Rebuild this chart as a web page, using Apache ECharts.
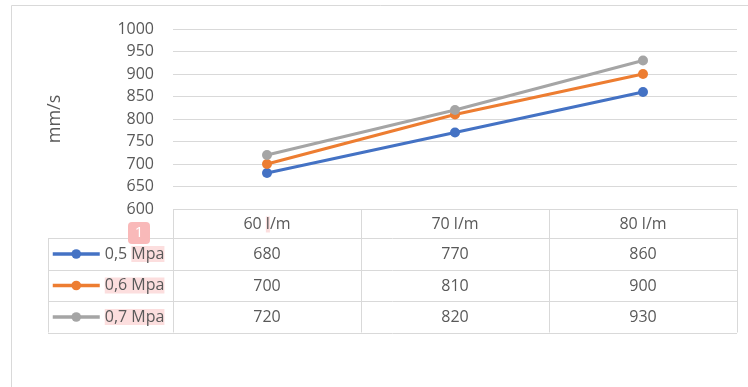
<!DOCTYPE html>
<html>
<head>
<meta charset="utf-8">
<script src="https://cdn.jsdelivr.net/npm/echarts@6/dist/echarts.min.js"></script>
<style>
  html, body { margin: 0; padding: 0; background: #fff; }
  #chart1 { width: 748px; height: 387px; }
</style>
</head>
<body>
<div id="chart1"></div>
<script>
// data
const categories = ['60 l/m', '70 l/m', '80 l/m']
const seriesNames = ['0,5 Mpa', '0,6 Mpa', '0,7 Mpa']
const values05 = [680, 770, 860]
const values06 = [700, 810, 900]
const values07 = [720, 820, 930]
const yMin = 600
const yMax = 1000
const yStep = 50
const yName = 'mm/s'

const seriesValues = [values05, values06, values07]
const colors = ['#4472C4', '#ED7D31', '#A5A5A5']
const textColor = '#595959'
const lineColor = '#d9d9d9'
const fontFamily = '"Open Sans", "Liberation Sans", sans-serif'

const chart1 = echarts.init(document.getElementById('chart1'))

let option = {
    animation: false,
    color: colors,
    textStyle: { fontFamily: fontFamily },
    grid: { left: 173, right: 11, top: 29, bottom: 178 },
    legend: {
        orient: 'vertical',
        left: 51,
        top: 244,
        padding: 0,
        itemWidth: 47,
        itemHeight: 12,
        itemGap: 11.5,
        data: seriesNames,
        lineStyle: { width: 3.5 },
        textStyle: {
            color: textColor,
            fontSize: 16,
            lineHeight: 20,
            rich: {
                h: { backgroundColor: '#fcdede', color: textColor, fontSize: 16, lineHeight: 20 }
            }
        },
        formatter: function (name) {
            // spell-check highlight as in the picture
            if (name === seriesNames[0]) {
                return name.split(' ')[0] + ' {h|' + name.split(' ')[1] + '}'
            }
            return '{h|' + name + '}'
        }
    },
    xAxis: {
        type: 'category',
        data: categories,
        boundaryGap: true,
        axisLine: { show: false },
        axisTick: { show: false },
        axisLabel: { show: false }
    },
    yAxis: {
        type: 'value',
        min: yMin,
        max: yMax,
        interval: yStep,
        name: yName,
        nameLocation: 'middle',
        nameGap: 109,
        nameTextStyle: { color: textColor, fontSize: 18 },
        axisLine: { show: false },
        axisTick: { show: false },
        axisLabel: {
            color: textColor,
            fontSize: 16,
            margin: 19,
            formatter: function (v) { return String(v) }
        },
        splitLine: { lineStyle: { color: lineColor, width: 1 } }
    },
    series: seriesNames.map(function (name, i) {
        return {
            name: name,
            type: 'line',
            data: seriesValues[i],
            symbol: 'circle',
            symbolSize: 10,
            lineStyle: { width: 3 },
            z: 2 + i
        }
    })
}
chart1.setOption(option)

// data table under the plot, built from the same arrays
const tableLeft = 48
const tableRight = 737
const headerH = 29
const rowH = 31.5
const plotLeft = 173
const tableTop = chart1.convertToPixel({ yAxisIndex: 0 }, yMin)
const centers = categories.map(function (c) {
    return chart1.convertToPixel({ xAxisIndex: 0 }, c)
})
const colW = centers.length > 1 ? centers[1] - centers[0] : 188
const rowsTop = tableTop + headerH
const tableBottom = rowsTop + rowH * seriesNames.length
const lineStyle = { stroke: lineColor, lineWidth: 1 }

let graphic = []
// outer chart frame
graphic.push({ type: 'rect', shape: { x: 11.5, y: 5.5, width: 800, height: 500 }, style: { fill: null, stroke: lineColor, lineWidth: 1 }, silent: true })
// horizontal lines
for (let r = 0; r <= seriesNames.length; r++) {
    let y = Math.round(rowsTop + rowH * r) + 0.5
    graphic.push({ type: 'line', shape: { x1: tableLeft, y1: y, x2: tableRight, y2: y }, style: lineStyle })
}
// vertical lines
graphic.push({ type: 'line', shape: { x1: tableLeft + 0.5, y1: rowsTop, x2: tableLeft + 0.5, y2: tableBottom }, style: lineStyle })
for (let c = 0; c <= categories.length; c++) {
    let x = Math.round(plotLeft + colW * c) + 0.5
    graphic.push({ type: 'line', shape: { x1: x, y1: tableTop, x2: x, y2: tableBottom }, style: lineStyle })
}
// header texts
categories.forEach(function (cat, i) {
    let txt = i === 0 ? cat.replace(' l/', ' {h|l}/') : cat
    graphic.push({
        type: 'text',
        x: centers[i],
        y: tableTop + headerH / 2 + 1,
        style: {
            text: txt, fill: textColor, font: '16px ' + fontFamily,
            align: 'center', verticalAlign: 'middle',
            rich: { h: { backgroundColor: '#fcdede', fill: textColor, font: '16px ' + fontFamily } }
        }
    })
})
// value cells
seriesValues.forEach(function (vals, r) {
    vals.forEach(function (v, i) {
        graphic.push({
            type: 'text',
            x: centers[i],
            y: rowsTop + rowH * r + rowH / 2 + 1,
            style: { text: String(v), fill: textColor, font: '16px ' + fontFamily, align: 'center', verticalAlign: 'middle' }
        })
    })
})
// little comment badge
graphic.push({ type: 'rect', shape: { x: 128, y: 222, width: 22, height: 22, r: 4 }, style: { fill: '#f9b9b9' } })
graphic.push({ type: 'text', x: 139, y: 233, style: { text: '1', fill: '#ffffff', font: '15px ' + fontFamily, align: 'center', verticalAlign: 'middle' } })

chart1.setOption({ graphic: graphic })
</script>
</body>
</html>
